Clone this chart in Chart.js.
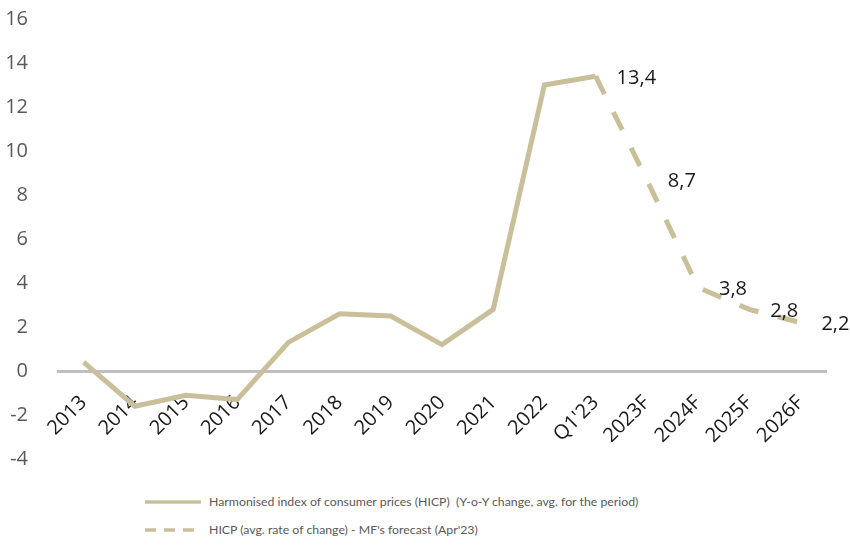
<!DOCTYPE html>
<html>
<head>
<meta charset="utf-8">
<script src="https://cdn.jsdelivr.net/npm/chart.js@4/dist/chart.umd.min.js"></script>
<style>
  html, body { margin: 0; padding: 0; background: #fff; overflow: hidden; }
  #wrap { position: relative; width: 850px; height: 548px; }
  #chart-box { position: absolute; left: 0; top: -15px; width: 850px; height: 508px; }
  .legend { position: absolute; left: 145px; font-family: Lato, "Open Sans", sans-serif; font-size: 12.3px; color: #595959; }
  .legend svg { vertical-align: middle; margin-right: 8px; }
  .legend span { vertical-align: middle; }
</style>
</head>
<body>
<div id="wrap">
  <div id="chart-box"><canvas id="hicp"></canvas></div>
  <div class="legend" style="top:493px">
    <svg width="56" height="6"><line x1="0" y1="3" x2="56" y2="3" stroke="#c9c09b" stroke-width="3.5"/></svg><span>Harmonised index of consumer prices (HICP)&nbsp; (Y-o-Y change, avg. for the period)</span>
  </div>
  <div class="legend" style="top:521px">
    <svg width="56" height="6"><line x1="0" y1="3" x2="56" y2="3" stroke="#c9c09b" stroke-width="3.5" stroke-dasharray="11 8"/></svg><span>HICP (avg. rate of change) - MF's forecast (Apr'23)</span>
  </div>
</div>
<script>
const periods = ['2013', '2014', '2015', '2016', '2017', '2018', '2019', '2020', '2021', '2022', "Q1'23", '2023F', '2024F', '2025F', '2026F'];
const hicpActual = [0.4, -1.6, -1.1, -1.3, 1.3, 2.6, 2.5, 1.2, 2.8, 13.0, 13.4, null, null, null, null];
const hicpForecast = [null, null, null, null, null, null, null, null, null, null, 13.4, 8.7, 3.8, 2.8, 2.2];
const yTicks = { min: -4, max: 16, step: 2 };

const LINE = '#c9c09b';

// value labels to the right of the forecast points, decimal comma
const pointLabels = {
  id: 'pointLabels',
  afterDatasetsDraw(chart) {
    const ctx = chart.ctx;
    const meta = chart.getDatasetMeta(1);
    ctx.save();
    ctx.font = '20px "Open Sans", sans-serif';
    ctx.fillStyle = '#1a1a1a';
    ctx.textAlign = 'left';
    ctx.textBaseline = 'middle';
    meta.data.forEach((pt, i) => {
      const v = hicpForecast[i];
      if (v === null) return;
      ctx.fillText(v.toFixed(1).replace('.', ','), pt.x + 21, pt.y + 2);
    });
    ctx.restore();
  }
};

new Chart(document.getElementById('hicp'), {
  type: 'line',
  data: {
    labels: periods,
    datasets: [
      {
        label: 'Harmonised index of consumer prices (HICP) (Y-o-Y change, avg. for the period)',
        data: hicpActual,
        borderColor: LINE,
        borderWidth: 5,
        pointRadius: 0,
        tension: 0,
        spanGaps: false
      },
      {
        label: "HICP (avg. rate of change) - MF's forecast (Apr'23)",
        data: hicpForecast,
        borderColor: LINE,
        borderWidth: 5,
        borderDash: [20, 20],
        pointRadius: 0,
        tension: 0
      }
    ]
  },
  options: {
    responsive: true,
    maintainAspectRatio: false,
    animation: false,
    layout: { padding: { top: 3, right: 24, bottom: 9, left: 0 } },
    plugins: {
      legend: { display: false },
      tooltip: { enabled: false }
    },
    scales: {
      x: {
        position: { y: 0 },
        offset: true,
        grid: { display: false },
        border: { display: true, color: '#bfbfbf', width: 3 },
        ticks: {
          maxRotation: 45,
          minRotation: 45,
          padding: 12,
          color: '#1a1a1a',
          font: { family: '"Open Sans", sans-serif', size: 20 }
        }
      },
      y: {
        min: yTicks.min,
        max: yTicks.max,
        grid: { display: false },
        border: { display: false },
        afterFit(axis) { axis.width = 58; },
        ticks: {
          stepSize: yTicks.step,
          padding: 22,
          color: '#595959',
          font: { family: '"Open Sans", sans-serif', size: 20 }
        }
      }
    }
  },
  plugins: [pointLabels]
});
</script>
</body>
</html>
